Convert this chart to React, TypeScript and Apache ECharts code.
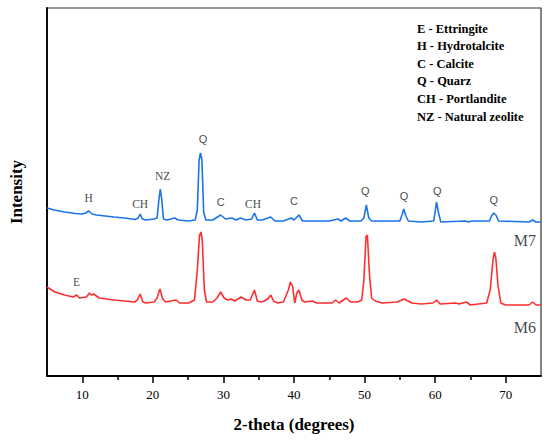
import React, { useEffect, useRef } from "react";
import * as echarts from "echarts";

// 2-theta (degrees), intensity (a.u.)
const M7: [number, number][] = [
  [5.0, 168], [6.0, 166], [7.5, 164], [9.0, 162.5], [10.0, 162], [10.5, 163], [10.9, 165], [11.4, 162],
  [12.0, 161], [14.5, 159], [16.0, 158], [17.5, 156.5], [17.9, 158], [18.2, 162], [18.5, 157], [19.0, 156],
  [20.2, 157], [20.6, 158], [20.85, 176], [21.05, 187], [21.25, 177], [21.5, 157], [22.0, 156], [23.1, 158],
  [23.6, 156], [25.0, 155], [26.0, 156], [26.3, 166], [26.55, 216], [26.75, 223], [26.95, 216], [27.2, 164],
  [27.5, 156], [28.5, 156], [29.6, 161], [30.3, 157], [31.2, 158], [31.8, 156], [32.4, 158], [33.2, 156],
  [34.0, 157], [34.4, 163], [34.8, 156], [35.5, 156], [36.7, 159], [37.3, 155], [38.5, 155], [39.6, 158],
  [40.0, 156], [40.7, 161], [41.2, 155], [45.0, 155], [46.2, 157], [46.7, 155], [47.3, 158], [47.9, 155],
  [49.5, 155], [49.9, 158], [50.25, 171], [50.6, 158], [51.0, 155], [55.0, 155], [55.3, 161], [55.55, 167],
  [55.85, 160], [56.2, 155], [58.0, 154], [59.8, 155], [60.0, 164], [60.2, 174], [60.45, 164], [60.8, 154],
  [64.3, 155], [64.7, 154], [65.2, 155], [67.7, 155], [68.0, 160], [68.3, 163], [68.6, 161], [69.0, 155],
  [73.3, 154], [73.8, 156], [74.3, 154], [75.0, 154],
];

const M6: [number, number][] = [
  [5.0, 89], [6.1, 84], [7.5, 81], [8.7, 79], [9.2, 81], [9.6, 78], [10.6, 79], [11.0, 83], [11.3, 81],
  [11.6, 82], [12.4, 78], [14.5, 76], [16.0, 75], [17.4, 74], [17.8, 76], [18.2, 82], [18.6, 74], [19.0, 73],
  [20.2, 74], [20.6, 78], [21.0, 87], [21.4, 77], [21.8, 74], [23.3, 76], [23.8, 73], [25.1, 73], [25.9, 76],
  [26.3, 106], [26.6, 140], [26.8, 144], [27.0, 136], [27.3, 86], [27.6, 74], [28.5, 74], [29.1, 78],
  [29.6, 84], [30.1, 78], [30.6, 76], [31.1, 77], [31.6, 75], [32.5, 79], [33.2, 76], [33.8, 76], [34.1, 81],
  [34.4, 86], [34.8, 75], [35.3, 74], [35.8, 75], [36.4, 78], [36.7, 81], [37.1, 75], [37.7, 73], [38.5, 74],
  [39.2, 86], [39.5, 94], [39.8, 90], [40.1, 73], [40.4, 83], [40.7, 86], [41.1, 76], [41.5, 74], [42.6, 75],
  [43.2, 73], [45.4, 73], [45.9, 76], [46.4, 73], [47.4, 78], [48.0, 74], [49.0, 74], [49.6, 76], [49.9, 96],
  [50.2, 139], [50.4, 141], [50.7, 101], [51.0, 78], [51.5, 75], [52.5, 73], [54.6, 74], [55.6, 77],
  [56.7, 73], [58.0, 72], [59.7, 73], [60.2, 76], [60.7, 72], [62.9, 73], [63.4, 72], [64.4, 74], [65.0, 71],
  [67.3, 73], [67.8, 86], [68.2, 116], [68.4, 124], [68.6, 118], [68.9, 91], [69.3, 73], [70.0, 71],
  [73.3, 71], [73.8, 74], [74.3, 71], [75.0, 71],
];

// peak annotations: [label, 2-theta, intensity, sans?]
const PEAK_LABELS: [string, number, number, boolean][] = [
  ["H", 10.9, 178, false], ["CH", 18.2, 172, false], ["NZ", 21.4, 200, false], ["Q", 27.1, 237, true],
  ["C", 29.6, 174, true], ["CH", 34.2, 172, false], ["C", 40.0, 175, true], ["Q", 50.1, 185, true],
  ["Q", 55.6, 180, true], ["Q", 60.3, 185, true], ["Q", 68.3, 176, true], ["E", 9.2, 94, false],
];

const SAMPLE_LABELS: [string, number, number][] = [
  ["M7", 72.7, 136],
  ["M6", 72.7, 49],
];

const LEGEND_LINES = [
  "E - Ettringite",
  "H - Hydrotalcite",
  "C - Calcite",
  "Q - Quarz",
  "CH - Portlandite",
  "NZ - Natural zeolite",
];

const MAJOR_TICKS = [10, 20, 30, 40, 50, 60, 70];
const MINOR_TICKS = [15, 25, 35, 45, 55, 65];

const SERIF = "'Liberation Serif', 'Times New Roman', serif";
const SANS = "'Liberation Sans', Arial, sans-serif";

export default function App() {
  const ref = useRef<HTMLDivElement>(null);
  useEffect(() => {
    if (!ref.current) return;
    const chart = echarts.init(ref.current, undefined, { renderer: "svg" });
    const option: any = {
      animation: false,
      backgroundColor: "#fff",
      grid: {
        left: 42, right: 9, top: 8, bottom: 64,
        show: true, borderColor: "#333", borderWidth: 1.2, backgroundColor: "transparent",
      },
      xAxis: [
        {
          type: "value", min: 5, max: 75,
          name: "2-theta (degrees)", nameLocation: "middle", nameGap: 40,
          nameTextStyle: { fontFamily: SERIF, fontWeight: "bold", fontSize: 17, color: "#000" },
          axisLine: { show: true, lineStyle: { color: "#000", width: 1.8 } },
          axisTick: { show: true, length: 7, customValues: MAJOR_TICKS, lineStyle: { color: "#000", width: 1.5 } },
          axisLabel: { show: true, customValues: MAJOR_TICKS, margin: 12, fontFamily: SERIF, fontSize: 13, color: "#000" },
          splitLine: { show: false },
        },
        {
          type: "value", min: 5, max: 75, position: "bottom",
          axisLine: { show: false },
          axisTick: { show: true, length: 4, customValues: MINOR_TICKS, lineStyle: { color: "#000", width: 1.5 } },
          axisLabel: { show: false },
          splitLine: { show: false },
        },
      ],
      yAxis: {
        type: "value", min: 0, max: 368,
        name: "Intensity", nameLocation: "middle", nameGap: 22,
        nameTextStyle: { fontFamily: SERIF, fontWeight: "bold", fontSize: 17, color: "#000" },
        axisLine: { show: true, lineStyle: { color: "#000", width: 1.8 } },
        axisTick: { show: false },
        axisLabel: { show: false },
        splitLine: { show: false },
      },
      series: [
        {
          type: "line", data: M7, showSymbol: false, symbol: "none",
          lineStyle: { color: "#1a73ea", width: 1.6 }, z: 3,
        },
        {
          type: "line", data: M6, showSymbol: false, symbol: "none",
          lineStyle: { color: "#ff2e2e", width: 1.6 }, z: 3,
        },
        {
          type: "scatter", symbolSize: 0, silent: true, z: 5,
          data: PEAK_LABELS.map(([t, x, y, sans]) => ({
            value: [x, y], name: t,
            label: { fontFamily: sans ? SANS : SERIF, fontSize: sans ? 11 : 11.5 },
          })),
          label: { show: true, position: "inside", formatter: (p: any) => p.name, color: "#111" },
        },
        {
          type: "scatter", symbolSize: 0, silent: true, z: 5,
          data: SAMPLE_LABELS.map(([t, x, y]) => ({ value: [x, y], name: t })),
          label: {
            show: true, position: "inside", formatter: (p: any) => p.name,
            fontFamily: SERIF, fontSize: 16, color: "#111",
          },
        },
      ],
      graphic: LEGEND_LINES.map((s, i) => ({
        type: "text",
        left: 417,
        top: 22 + i * 17.6,
        style: { text: s, fontFamily: SERIF, fontWeight: "bold", fontSize: 12.5, fill: "#000" },
      })),
    };
    chart.setOption(option);
    return () => chart.dispose();
  }, []);
  return (
    <div style={{ position: "fixed", left: 0, top: 0, width: 550, height: 440, background: "#fff" }}>
      <div ref={ref} style={{ width: 550, height: 440 }} />
    </div>
  );
}
